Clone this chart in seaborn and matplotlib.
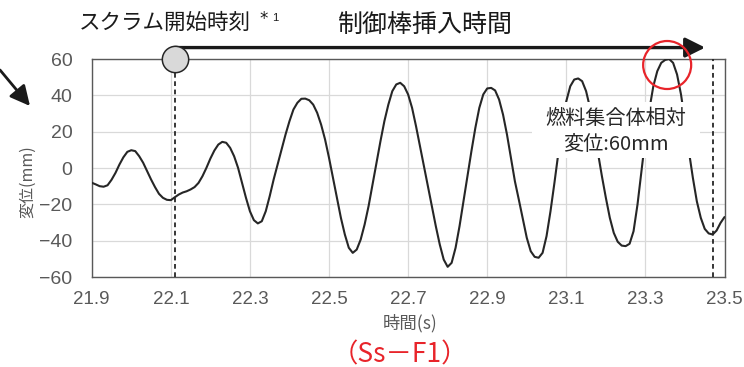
import numpy as np
import pandas as pd
import matplotlib
matplotlib.use("Agg")
import matplotlib.pyplot as plt
from matplotlib.patches import Rectangle, FancyArrowPatch
import seaborn as sns

# Time (s) and fuel assembly relative displacement (mm)
time_s = [
    21.90, 21.91, 21.92, 21.93, 21.94, 21.95, 21.96, 21.97, 21.98, 21.99,
    22.00, 22.01, 22.02, 22.03, 22.04, 22.05, 22.06, 22.07, 22.08, 22.09,
    22.10, 22.11, 22.12, 22.13, 22.14, 22.15, 22.16, 22.17, 22.18, 22.19,
    22.20, 22.21, 22.22, 22.23, 22.24, 22.25, 22.26, 22.27, 22.28, 22.29,
    22.30, 22.31, 22.32, 22.33, 22.34, 22.35, 22.36, 22.37, 22.38, 22.39,
    22.40, 22.41, 22.42, 22.43, 22.44, 22.45, 22.46, 22.47, 22.48, 22.49,
    22.50, 22.51, 22.52, 22.53, 22.54, 22.55, 22.56, 22.57, 22.58, 22.59,
    22.60, 22.61, 22.62, 22.63, 22.64, 22.65, 22.66, 22.67, 22.68, 22.69,
    22.70, 22.71, 22.72, 22.73, 22.74, 22.75, 22.76, 22.77, 22.78, 22.79,
    22.80, 22.81, 22.82, 22.83, 22.84, 22.85, 22.86, 22.87, 22.88, 22.89,
    22.90, 22.91, 22.92, 22.93, 22.94, 22.95, 22.96, 22.97, 22.98, 22.99,
    23.00, 23.01, 23.02, 23.03, 23.04, 23.05, 23.06, 23.07, 23.08, 23.09,
    23.10, 23.11, 23.12, 23.13, 23.14, 23.15, 23.16, 23.17, 23.18, 23.19,
    23.20, 23.21, 23.22, 23.23, 23.24, 23.25, 23.26, 23.27, 23.28, 23.29,
    23.30, 23.31, 23.32, 23.33, 23.34, 23.35, 23.36, 23.37, 23.38, 23.39,
    23.40, 23.41, 23.42, 23.43, 23.44, 23.45, 23.46, 23.47, 23.48, 23.49,
    23.50,
]
displacement_mm = [
    -8.1, -9.0, -10.0, -10.3, -9.5, -6.5, -2.7, 1.9, 5.9, 8.9,
    9.8, 9.3, 6.5, 2.9, -1.7, -6.3, -10.5, -14.2, -16.4, -17.5,
    -17.7, -16.1, -14.6, -13.5, -12.8, -11.8, -10.5, -8.2, -4.5, 0.1,
    5.2, 9.6, 12.9, 14.4, 13.9, 11.1, 6.5, 0.1, -8.1, -16.4,
    -23.8, -28.7, -30.5, -29.3, -23.8, -15.5, -6.3, 1.9, 10.2, 18.4,
    25.8, 32.2, 35.9, 38.1, 38.2, 37.3, 34.9, 30.4, 23.9, 15.7,
    5.6, -5.4, -16.4, -27.4, -36.6, -43.9, -46.7, -44.9, -39.4, -31.1,
    -21.0, -9.1, 2.9, 14.7, 25.8, 34.9, 42.3, 46.0, 46.9, 45.0,
    40.5, 33.1, 23.0, 12.0, 1.0, -10.0, -21.0, -32.0, -42.1, -50.4,
    -54.4, -52.2, -43.9, -32.0, -18.3, -4.5, 9.2, 22.1, 33.1, 40.5,
    43.8, 44.1, 42.7, 37.7, 29.4, 18.4, 5.6, -7.3, -17.5, -28.0,
    -38.4, -45.8, -48.9, -49.4, -46.7, -37.5, -23.8, -8.1, 8.4, 23.9,
    36.8, 45.0, 48.7, 49.3, 47.8, 42.3, 33.1, 21.2, 8.4, -4.5,
    -16.4, -27.4, -35.7, -40.6, -42.7, -43.0, -41.7, -34.8, -20.1, -1.7,
    16.6, 32.2, 45.0, 53.3, 57.9, 59.5, 60.0, 57.9, 51.5, 40.5,
    25.8, 9.2, -5.4, -18.3, -27.4, -33.5, -36.0, -36.6, -34.4, -30.2,
    -27.0,
]

x_ticks = [21.9, 22.1, 22.3, 22.5, 22.7, 22.9, 23.1, 23.3, 23.5]
y_ticks = [-60, -40, -20, 0, 20, 40, 60]

scram_start = 22.11      # scram start time
insertion_end = 23.47    # end of rod insertion window

df = pd.DataFrame({"time": time_s, "disp": displacement_mm})
peak_idx = int(np.argmax(df["disp"].values))
peak_t = df["time"].iloc[peak_idx]
peak_v = df["disp"].iloc[peak_idx]

sns.set_theme(style="whitegrid")
plt.rcParams["font.family"] = ["Noto Sans CJK JP", "DejaVu Sans"]
plt.rcParams["axes.unicode_minus"] = True

GRAY_TXT = "#595959"
RED = "#e8242a"
INK = "#1a1a1a"

fig = plt.figure(figsize=(7.44, 3.67), dpi=100)
fig.patch.set_facecolor("white")
ax = fig.add_axes([0.1233, 0.2452, 0.8505, 0.594])
ax.set_facecolor("white")

sns.lineplot(data=df, x="time", y="disp", ax=ax, color="#262626",
             linewidth=1.5, zorder=3, sort=False, estimator=None)

ax.set_xlim(21.9, 23.5)
ax.set_ylim(-60, 60)
ax.set_xticks(x_ticks)
ax.set_yticks(y_ticks)
ax.set_xticklabels([f"{v:.1f}" for v in x_ticks], family="Liberation Sans",
                   fontsize=13.5, color=GRAY_TXT)
ax.set_yticklabels([f"{v}".replace("-", "\u2212") for v in y_ticks],
                   family="Liberation Sans", fontsize=14, color=GRAY_TXT)
ax.tick_params(axis="both", length=0)
ax.tick_params(axis="y", pad=14)
ax.tick_params(axis="x", pad=10)
ax.grid(True, color="#d9d9d9", linewidth=0.9)
for sp in ax.spines.values():
    sp.set_visible(True)
    sp.set_color("#595959")
    sp.set_linewidth(1.0)

ax.set_xlabel("")
ax.set_ylabel("")
ax.text(-0.1007, 0.438, "変位(mm)", transform=ax.transAxes, rotation=90,
        ha="center", va="center", fontsize=11.5, color=GRAY_TXT)
ax.text(0.503, -0.211, "時間(s)", transform=ax.transAxes,
        ha="center", va="center", fontsize=12.5, color=GRAY_TXT)

# dashed markers for scram start and end of insertion
for xv in (scram_start, insertion_end):
    ax.axvline(xv, color="#262626", linestyle=(0, (2.6, 2.0)), linewidth=1.3, zorder=4)

# insertion-time arrow
ax.annotate("", xy=(23.451, 66.3), xytext=(scram_start, 66.3),
            xycoords="data", textcoords="data", annotation_clip=False,
            arrowprops=dict(arrowstyle="-|>,head_length=0.6,head_width=0.3",
                            mutation_scale=20, lw=2.4, color=INK,
                            shrinkA=0, shrinkB=0), zorder=5)
# scram start marker
ax.scatter([scram_start], [60], s=360, facecolor="#d9d9d9", edgecolor="#262626",
           linewidth=1.1, zorder=6, clip_on=False)

# white label box with the peak relative displacement
ax.add_patch(Rectangle((23.013, 5.5), 0.425, 30.8, facecolor="white",
                       edgecolor="none", zorder=7))
ax.text(23.2255, 20.1, f"燃料集合体相対\n変位:{peak_v:.0f}mm", ha="center",
        va="center", fontsize=14.5, color="#262626", linespacing=1.3, zorder=8)

# red circle around the peak
ax.scatter([peak_t - 0.005], [peak_v - 3.3], s=1195, facecolor="none",
           edgecolor=RED, linewidth=1.6, zorder=9, clip_on=False)

# header texts
fig.text(79 / 744, 1 - 23 / 367, "スクラム開始時刻", ha="left", va="center",
         fontsize=15.5, color=INK)
fig.text(259 / 744, 1 - 19 / 367, "*", ha="left", va="center",
         fontsize=12, color=INK, family="DejaVu Sans")
fig.text(272 / 744, 1 - 18 / 367, "1", ha="left", va="center",
         fontsize=8, color=INK, family="Liberation Sans")
fig.text(425 / 744, 1 - 25 / 367, "制御棒挿入時間", ha="center", va="center",
         fontsize=18, color=INK)

# pointer arrow at the left
fig.add_artist(FancyArrowPatch(
    (0 / 744, 1 - 70 / 367), (30 / 744, 1 - 106 / 367),
    transform=fig.transFigure, arrowstyle="-|>,head_length=0.6,head_width=0.3",
    mutation_scale=20, lw=2.0, color=INK, shrinkA=0, shrinkB=0))

fig.text(400 / 744, 1 - 355 / 367, "（Ss－F1）", ha="center", va="center",
         fontsize=19, color=RED)

fig.savefig("out.png", dpi=100)
